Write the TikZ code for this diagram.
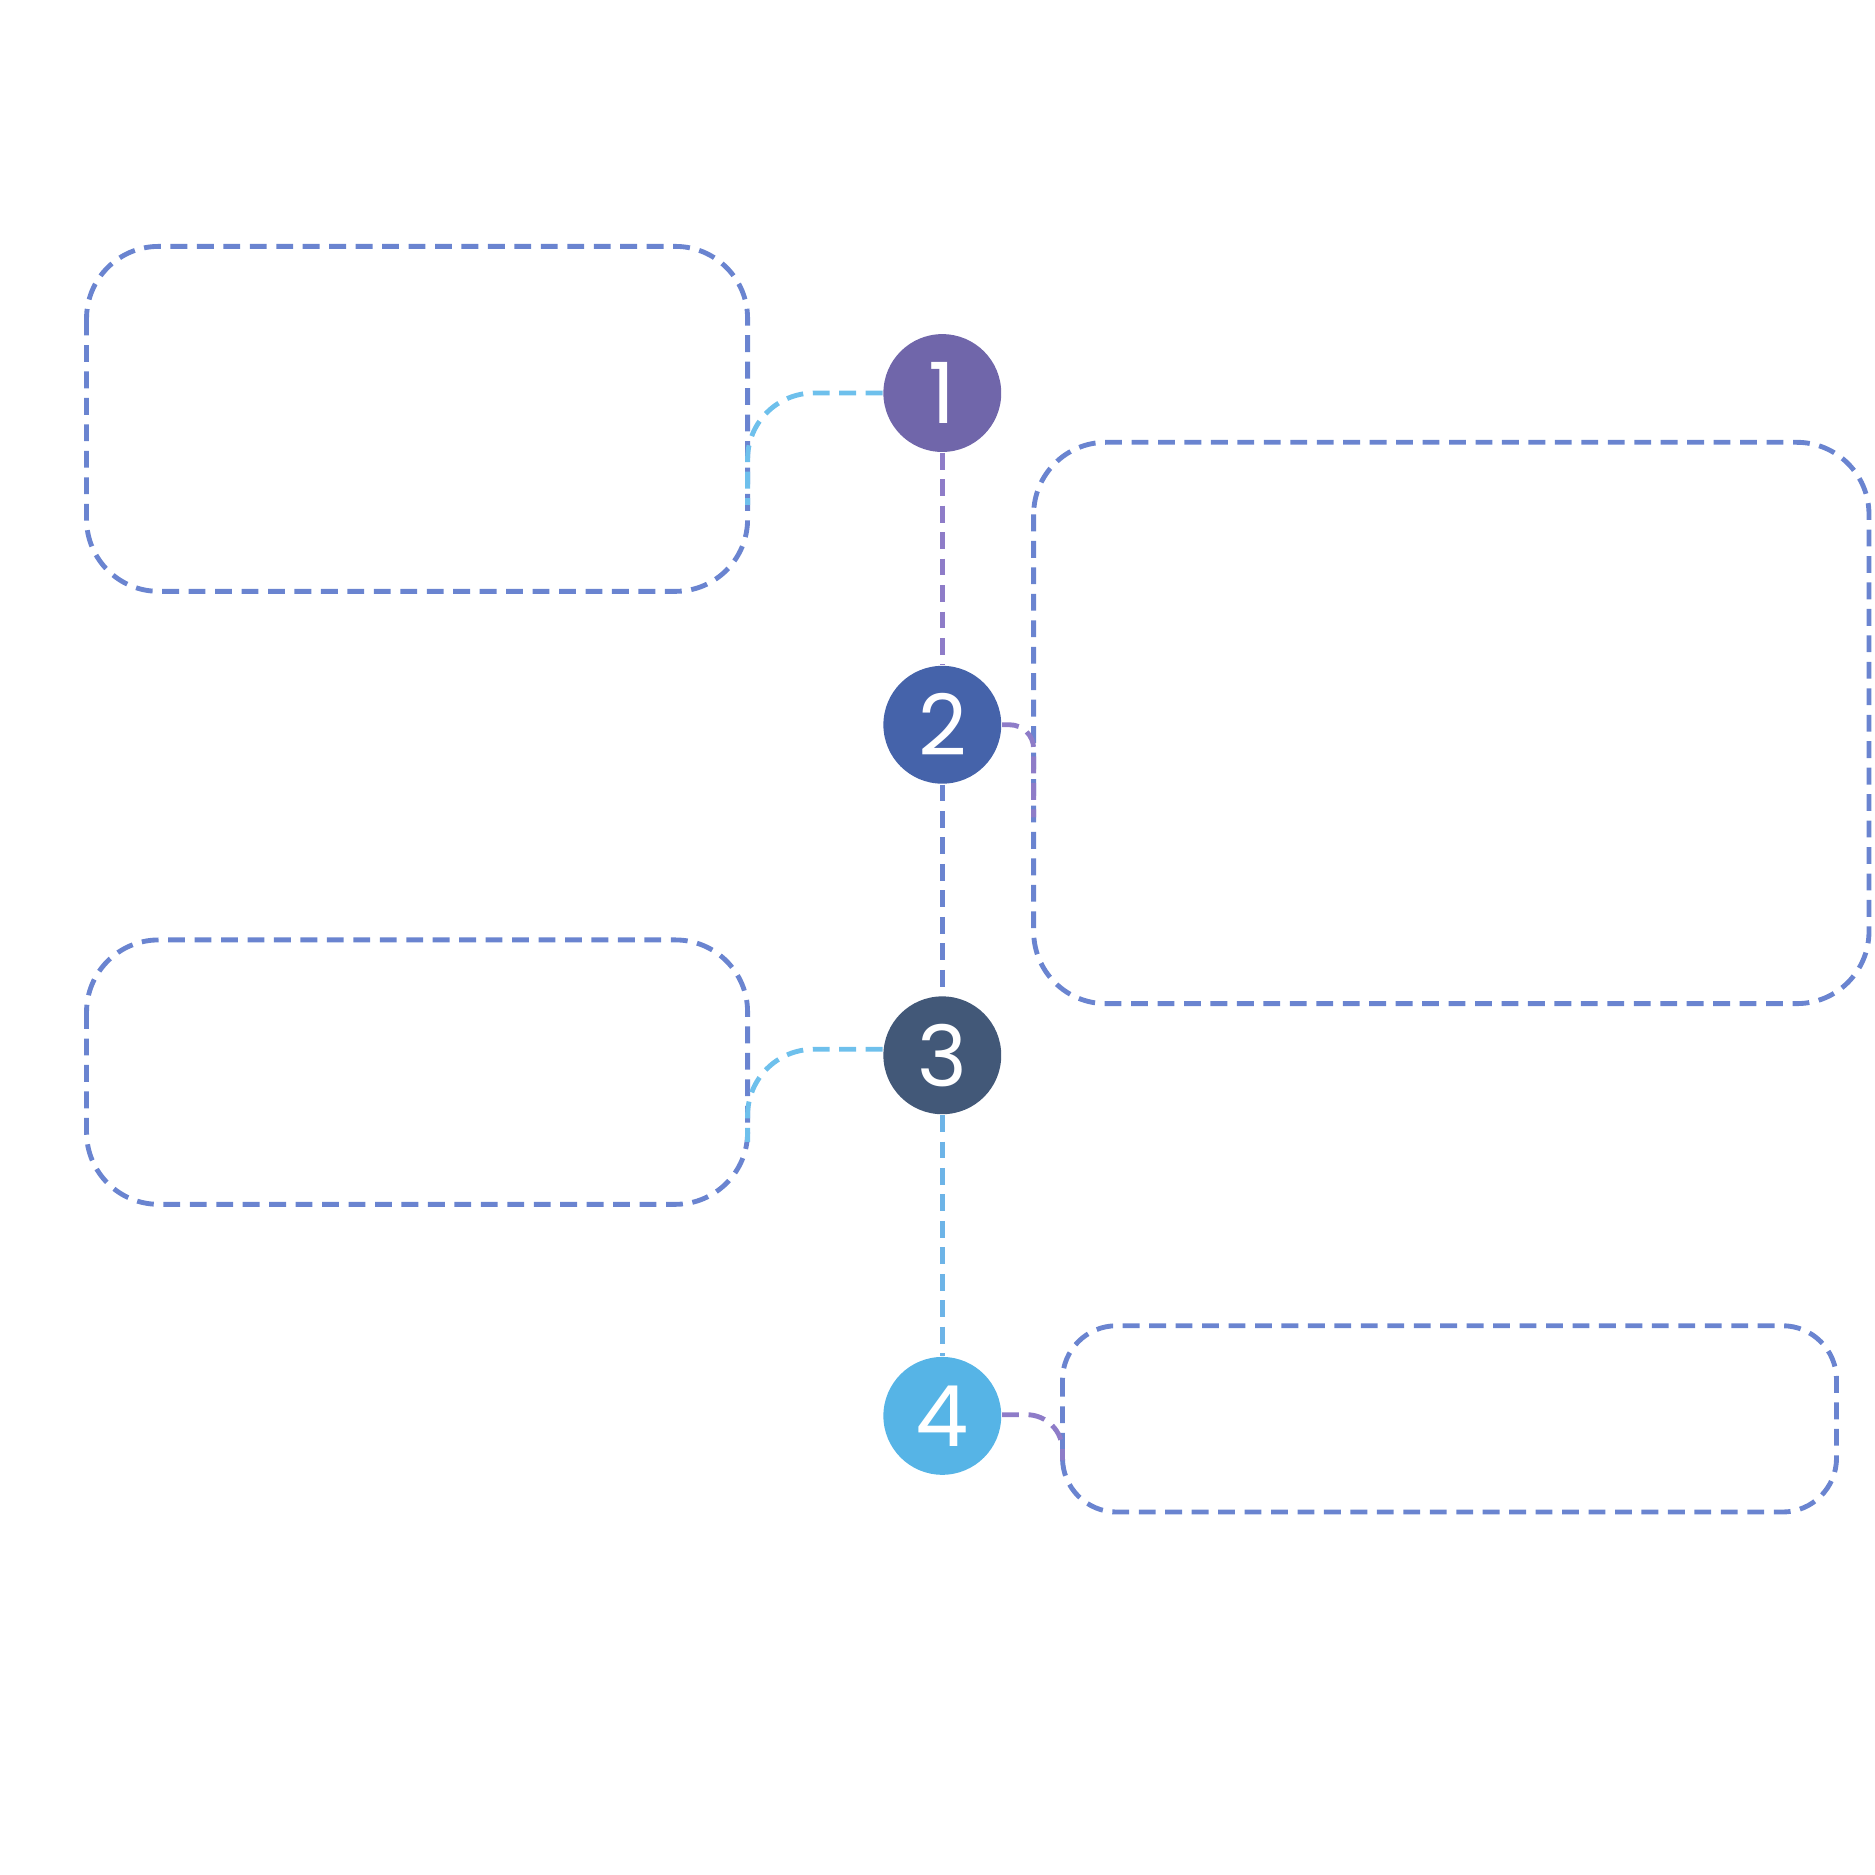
\documentclass[tikz,border=0pt]{standalone}
\usepackage{fontspec}
\newfontfamily\stepfont{Poppins}
\usetikzlibrary{positioning}
\definecolor{stepA}{HTML}{7066AA}
\definecolor{stepB}{HTML}{4563AA}
\definecolor{stepC}{HTML}{425878}
\definecolor{stepD}{HTML}{56B4E6}
\definecolor{lnPurple}{HTML}{8E7CC8}
\definecolor{lnMid}{HTML}{6A84D0}
\definecolor{lnBlue}{HTML}{6EC0EC}
\tikzset{
  dline/.style={line width=1.15pt, dash pattern=on 0.14cm off 0.08cm},
  step/.style={circle, fill=#1, minimum size=0.98cm, inner sep=0pt,
    text=white, font=\stepfont\fontsize{20}{24}\selectfont},
  card/.style={dline, draw=lnMid, rounded corners=0.6cm}
}
\begin{document}
\begin{tikzpicture}[x=0.01cm, y=-0.01cm]
	\useasboundingbox (0,0) rectangle (1560,1560);
	
	% Cartoes
	\draw[card] (72,205) rectangle (622,492);
	\draw[card] (860,368) rectangle (1555,835);
	\draw[card] (72,782) rectangle (622,1002);
	\draw[card, rounded corners=0.45cm] (884,1103) rectangle (1528,1258);
	
	% Passos
	\node[step=stepA] (s1) at (784,327) {1};
	\node[step=stepB] (s2) at (784,603) {2};
	\node[step=stepC] (s3) at (784,878) {3};
	\node[step=stepD] (s4) at (784,1178) {4};
	
	% Linha do tempo
	\draw[dline, lnPurple] (s1) -- (s2);
	\draw[dline, lnMid] (s2) -- (s3);
	\draw[dline, lnBlue!80!lnMid] (s3) -- (s4);
	
	% Ligacoes aos cartoes
	\coordinate (c1) at (622,420);
	\coordinate (c2) at (860,680);
	\coordinate (c3) at (622,950);
	\coordinate (c4) at (884,1215);
	\draw[dline, lnBlue, rounded corners=0.55cm] (s1.west) -| (c1);
	\draw[dline, lnPurple, rounded corners=0.2cm] (s2.east) -| (c2);
	\draw[dline, lnBlue, rounded corners=0.55cm] (s3.west |- 0,873) -| (c3);
	\draw[dline, lnPurple, rounded corners=0.3cm] (s4.east |- 0,1177) -| (c4);
\end{tikzpicture}
\end{document}
